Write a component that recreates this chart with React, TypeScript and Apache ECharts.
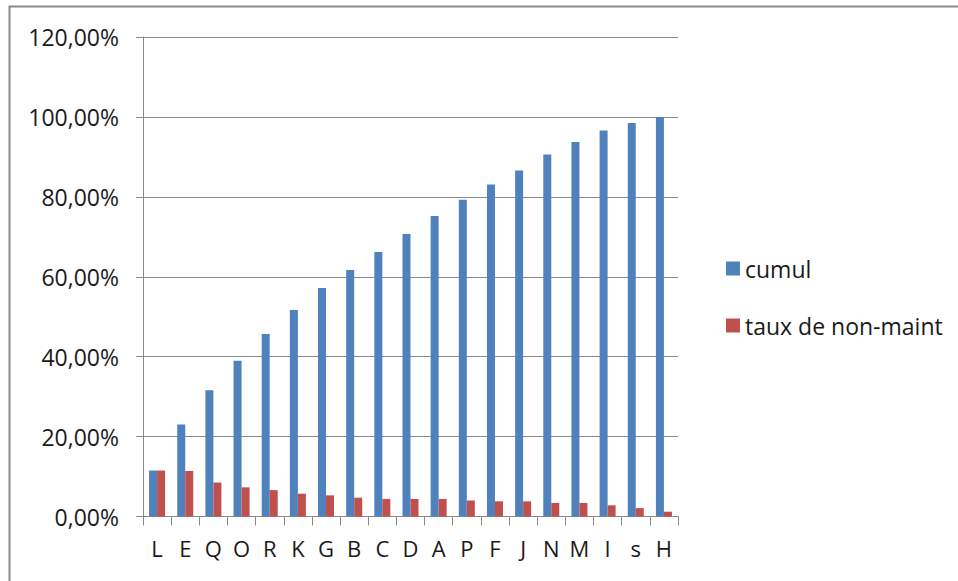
import React, { useEffect, useRef } from "react";
import * as echarts from "echarts";

// Categories in decreasing order of their individual rate
const categories = ["L", "E", "Q", "O", "R", "K", "G", "B", "C", "D", "A", "P", "F", "J", "N", "M", "I", "s", "H"];

// Cumulative share, in percent
const cumul = [11.5, 23.0, 31.6, 39.0, 45.7, 51.7, 57.2, 61.7, 66.2, 70.7, 75.2, 79.3, 83.1, 86.6, 90.6, 93.7, 96.6, 98.5, 100];

// Individual non-maintenance rate, in percent
const tauxNonMaint = [11.5, 11.4, 8.5, 7.3, 6.6, 5.7, 5.3, 4.7, 4.4, 4.4, 4.4, 4.0, 3.8, 3.8, 3.4, 3.4, 2.8, 2.1, 1.2];

const seriesNames = ["cumul", "taux de non-maint"];

const FONT = "'Open Sans', 'Liberation Sans', sans-serif";
const GRID_GRAY = "#8a8a8a";

function formatPercent(v: number): string {
  return v.toFixed(2).replace(".", ",") + "%";
}

export default function App() {
  const ref = useRef<HTMLDivElement>(null);

  useEffect(() => {
    document.body.style.margin = "0";
    if (!ref.current) return;
    const chart = echarts.init(ref.current, null, { renderer: "svg" });
    chart.setOption({
      animation: false,
      backgroundColor: "#ffffff",
      textStyle: { fontFamily: FONT },
      graphic: [
        {
          type: "rect",
          left: 7,
          top: 4,
          shape: { width: 1000, height: 620 },
          style: { fill: "none", stroke: "#8a8a8a", lineWidth: 2 },
          silent: true,
        },
      ],
      grid: { left: 143, right: 280, top: 37, bottom: 64.5, containLabel: false },
      legend: {
        orient: "vertical",
        left: 721,
        top: 252,
        itemWidth: 14,
        itemHeight: 14,
        itemGap: 34,
        itemStyle: { borderWidth: 0 },
        icon: "rect",
        textStyle: { fontFamily: FONT, fontSize: 23, color: "#1a1a1a", padding: [0, 0, 0, 0] },
        data: seriesNames,
      },
      xAxis: {
        type: "category",
        data: categories,
        boundaryGap: true,
        axisLine: { show: true, lineStyle: { color: GRID_GRAY, width: 1 } },
        axisTick: { show: true, length: 9, lineStyle: { color: GRID_GRAY } },
        axisLabel: { fontFamily: FONT, fontSize: 22, color: "#1a1a1a", margin: 20, interval: 0 },
      },
      yAxis: {
        type: "value",
        min: 0,
        max: 120,
        interval: 20,
        axisLine: { show: true, lineStyle: { color: GRID_GRAY, width: 1 } },
        axisTick: { show: true, length: 7, lineStyle: { color: GRID_GRAY } },
        splitLine: { show: true, lineStyle: { color: GRID_GRAY, width: 1 } },
        axisLabel: {
          fontFamily: FONT,
          fontSize: 23,
          color: "#1a1a1a",
          margin: 24,
          formatter: (v: number) => formatPercent(v),
        },
      },
      series: [
        {
          name: seriesNames[0],
          type: "bar",
          data: cumul,
          barWidth: 8,
          barGap: "0%",
          itemStyle: { color: "#4F81BD" },
        },
        {
          name: seriesNames[1],
          type: "bar",
          data: tauxNonMaint,
          barWidth: 8,
          barGap: "0%",
          itemStyle: { color: "#C0504D" },
        },
      ],
    });
    return () => chart.dispose();
  }, []);

  return <div ref={ref} style={{ width: 958, height: 581 }} />;
}
